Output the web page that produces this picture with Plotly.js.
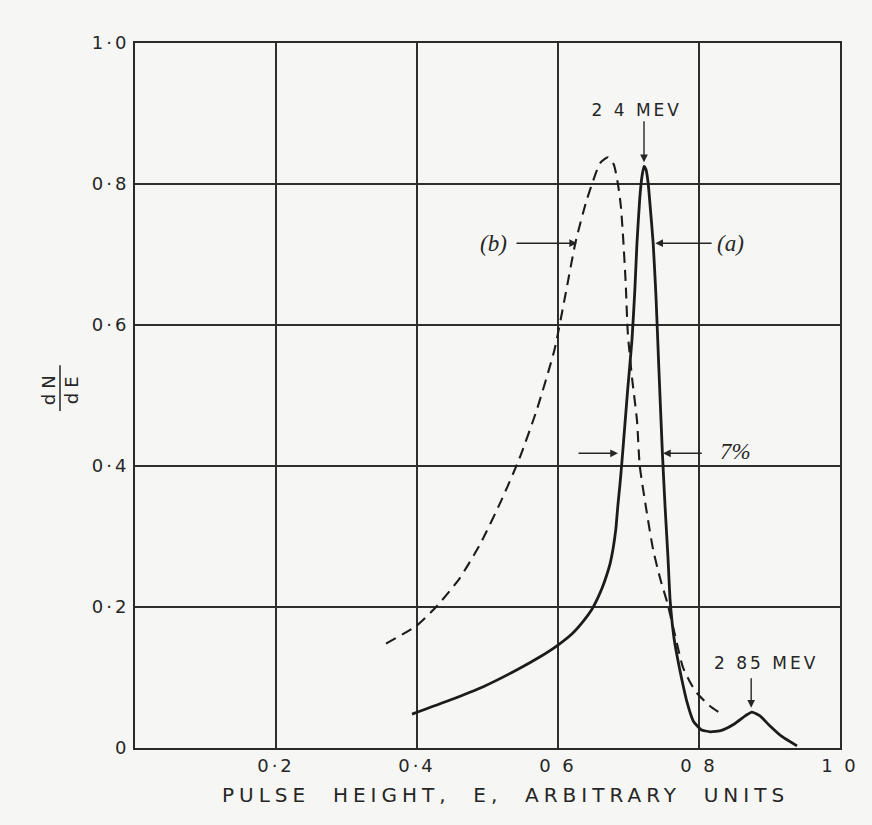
<!DOCTYPE html>
<html>
<head>
<meta charset="utf-8">
<script src="https://cdn.plot.ly/plotly-3.0.1.min.js"></script>
<style>
  html, body { margin: 0; padding: 0; background: #f6f6f4; }
  #chart { width: 872px; height: 825px; }
  .js-plotly-plot .xtick text, .js-plotly-plot .ytick text { letter-spacing: 3px; }
  .js-plotly-plot .annotation[data-index="0"] text,
  .js-plotly-plot .annotation[data-index="1"] text { letter-spacing: 3px; }
  .js-plotly-plot .annotation[data-index="5"] text,
  .js-plotly-plot .annotation[data-index="6"] text { letter-spacing: 5px; }
  .js-plotly-plot .annotation[data-index="7"] text { letter-spacing: 5px; }
</style>
</head>
<body>
<div id="chart"></div>
<script>
// Curve (a): pulse-height spectrum, solid line
const curveAX = [0.393, 0.447, 0.494, 0.542, 0.574, 0.600, 0.620, 0.636, 0.647, 0.656,
                 0.663, 0.669, 0.674, 0.678, 0.682, 0.685, 0.688, 0.691, 0.695, 0.699,
                 0.705, 0.709, 0.712, 0.716, 0.719, 0.722, 0.725, 0.728, 0.731, 0.735,
                 0.739, 0.743, 0.748, 0.752, 0.756, 0.759, 0.764, 0.769, 0.775, 0.783,
                 0.792, 0.803, 0.816, 0.832, 0.850, 0.866, 0.875, 0.886, 0.900, 0.918, 0.939];
const curveAY = [0.048, 0.068, 0.087, 0.111, 0.129, 0.146, 0.162, 0.180, 0.195, 0.212,
                 0.228, 0.245, 0.262, 0.282, 0.310, 0.345, 0.375, 0.410, 0.460, 0.510,
                 0.580, 0.650, 0.716, 0.780, 0.810, 0.825, 0.820, 0.800, 0.765, 0.716,
                 0.640, 0.540, 0.420, 0.340, 0.270, 0.210, 0.160, 0.130, 0.100, 0.065,
                 0.038, 0.026, 0.023, 0.025, 0.034, 0.046, 0.051, 0.046, 0.032, 0.016, 0.003];

// Curve (b): dashed line
const curveBX = [0.356, 0.400, 0.427, 0.460, 0.490, 0.520, 0.545, 0.570, 0.595, 0.610,
                 0.625, 0.640, 0.650, 0.660, 0.671, 0.679, 0.685, 0.689, 0.692, 0.696,
                 0.699, 0.705, 0.712, 0.716, 0.725, 0.735, 0.745, 0.755, 0.766, 0.777,
                 0.787, 0.797, 0.815, 0.834];
const curveBY = [0.148, 0.174, 0.200, 0.240, 0.290, 0.352, 0.410, 0.480, 0.565, 0.640,
                 0.718, 0.775, 0.805, 0.830, 0.838, 0.828, 0.800, 0.770, 0.730, 0.660,
                 0.589, 0.525, 0.465, 0.400, 0.340, 0.281, 0.240, 0.206, 0.160, 0.115,
                 0.094, 0.078, 0.060, 0.047];

// Axis ticks
const xTickVals = [0.2, 0.4, 0.6, 0.8, 1.0];
const xTickText = ["0·2", "0·4", "0 6", "0 8", "1 0"];
const yTickVals = [0, 0.2, 0.4, 0.6, 0.8, 1.0];
const yTickText = ["0", "0·2", "0·4", "0·6", "0·8", "1·0"];

const ink = "#262626";
const sans = "DejaVu Sans, sans-serif";
const serif = "Liberation Serif, serif";

const traces = [
  { x: curveAX, y: curveAY, type: "scatter", mode: "lines", line: { color: "#1c1c1c", width: 2.8, shape: "spline", smoothing: 0.5 } },
  { x: curveBX, y: curveBY, type: "scatter", mode: "lines", line: { color: "#1c1c1c", width: 2.1, dash: "11px,7px", shape: "spline", smoothing: 0.6 } }
];

function arrow(x0, y0, x1, y1) {
  return { x: x1, y: y1, ax: x0, ay: y0, xref: "x", yref: "y", axref: "x", ayref: "y",
           text: "", showarrow: true, arrowhead: 2, arrowsize: 1.1, arrowwidth: 1.4,
           arrowcolor: ink, standoff: 0, startstandoff: 0 };
}
function label(x, y, text, font) {
  return { x: x, y: y, xref: "x", yref: "y", text: text, showarrow: false,
           xanchor: "center", yanchor: "middle", font: font };
}

const annotations = [
  label(0.712, 0.905, "2 4 MEV", { family: sans, size: 17, color: ink }),
  label(0.896, 0.121, "2 85 MEV", { family: sans, size: 17, color: ink }),
  label(0.845, 0.716, "(a)", { family: serif, size: 23, color: ink, style: "italic" }),
  label(0.508, 0.716, "(b)", { family: serif, size: 23, color: ink, style: "italic" }),
  label(0.852, 0.420, "7%", { family: serif, size: 23, color: ink, style: "italic" }),
  { x: -0.1227, y: 0.511, xref: "paper", yref: "paper", text: "dN", showarrow: false,
    textangle: -90, xanchor: "center", yanchor: "middle", font: { family: sans, size: 18, color: ink } },
  { x: -0.0901, y: 0.511, xref: "paper", yref: "paper", text: "dE", showarrow: false,
    textangle: -90, xanchor: "center", yanchor: "middle", font: { family: sans, size: 18, color: ink } },
  { x: 0.525, y: -0.0667, xref: "paper", yref: "paper",
    text: "PULSE&nbsp;&nbsp;HEIGHT,&nbsp;&nbsp;E,&nbsp;&nbsp;ARBITRARY&nbsp;&nbsp;UNITS", showarrow: false,
    xanchor: "center", yanchor: "middle", font: { family: sans, size: 20, color: ink } },
  arrow(0.722, 0.891, 0.722, 0.831),
  arrow(0.820, 0.716, 0.738, 0.716),
  arrow(0.539, 0.716, 0.627, 0.716),
  arrow(0.627, 0.418, 0.685, 0.418),
  arrow(0.806, 0.418, 0.749, 0.418),
  arrow(0.874, 0.101, 0.874, 0.057)
];

const layout = {
  width: 872, height: 825,
  margin: { l: 135, r: 32, t: 43, b: 77 },
  paper_bgcolor: "#f6f6f4",
  plot_bgcolor: "#f6f6f4",
  showlegend: false,
  hovermode: false,
  xaxis: {
    range: [0, 1], tickvals: xTickVals, ticktext: xTickText,
    showgrid: true, gridcolor: "#2e2e2e", gridwidth: 1.5, zeroline: false,
    showline: true, mirror: true, linecolor: "#2a2a2a", linewidth: 2,
    ticks: "", ticklabelstandoff: 0,
    tickfont: { family: sans, size: 18, color: ink }
  },
  yaxis: {
    range: [0, 1], tickvals: yTickVals, ticktext: yTickText,
    showgrid: true, gridcolor: "#2e2e2e", gridwidth: 1.5, zeroline: false,
    showline: true, mirror: true, linecolor: "#2a2a2a", linewidth: 2,
    ticks: "", ticklabelstandoff: 0,
    tickfont: { family: sans, size: 18, color: ink }
  },
  shapes: [
    { type: "line", xref: "paper", yref: "paper", x0: -0.1064, x1: -0.1064, y0: 0.478, y1: 0.543,
      line: { color: ink, width: 1.5 } }
  ],
  annotations: annotations
};

Plotly.newPlot("chart", traces, layout, { staticPlot: true, displayModeBar: false });
</script>
</body>
</html>
